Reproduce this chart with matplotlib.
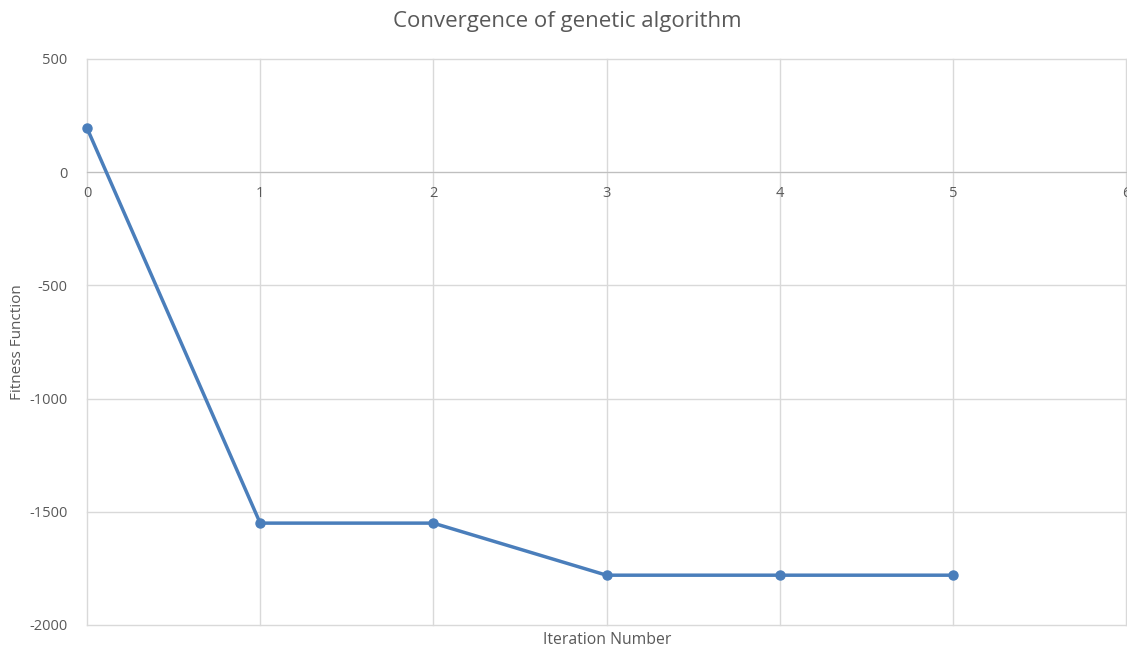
import matplotlib
matplotlib.use("Agg")
import matplotlib.pyplot as plt

# values
iterations = [0, 1, 2, 3, 4, 5]
fitness = [195, -1550, -1550, -1780, -1780, -1780]
x_ticks = [0, 1, 2, 3, 4, 5, 6]
y_ticks = [-2000, -1500, -1000, -500, 0, 500]

plt.rcParams['font.family'] = ['Open Sans', 'DejaVu Sans']
plt.rcParams['axes.unicode_minus'] = False
text_col = '#595959'
grid_col = '#d9d9d9'

fig = plt.figure(figsize=(11.27, 6.48), dpi=100)
ax = fig.add_axes([87 / 1127, 1 - 625 / 648, (1126 - 87) / 1127, (625 - 59) / 648])

ax.plot(iterations, fitness, color='#4a7ebb', linewidth=2.5, marker='o',
        markersize=6.5, zorder=3, clip_on=False)

ax.set_xlim(0, 6)
ax.set_ylim(-2000, 500)
ax.set_xticks(x_ticks)
ax.set_yticks(y_ticks)
ax.grid(True, color=grid_col, linewidth=1, clip_on=False)
for gl in ax.get_xgridlines() + ax.get_ygridlines():
    gl.set_clip_on(False)
ax.set_axisbelow(True)

for side in ['top', 'right', 'left']:
    ax.spines[side].set_visible(False)
ax.spines['bottom'].set_position(('data', 0))
ax.spines['bottom'].set_color('#bfbfbf')
ax.spines['bottom'].set_zorder(2)
ax.tick_params(axis='both', length=0, labelsize=10.5, colors=text_col)
ax.tick_params(axis='x', pad=10)
ax.tick_params(axis='y', pad=14)

fig.text(18 / 1127, 1 - 342 / 648, 'Fitness Function', fontsize=11, rotation=90,
         color=text_col, ha='center', va='center')
fig.text(607 / 1127, 1 - 640 / 648, 'Iteration Number', fontsize=11.3,
         color=text_col, ha='center', va='center')
fig.text(567 / 1127, 1 - 22 / 648, 'Convergence of genetic algorithm',
         fontsize=16, color=text_col, ha='center', va='center')

fig.savefig('out.png', dpi=100)
